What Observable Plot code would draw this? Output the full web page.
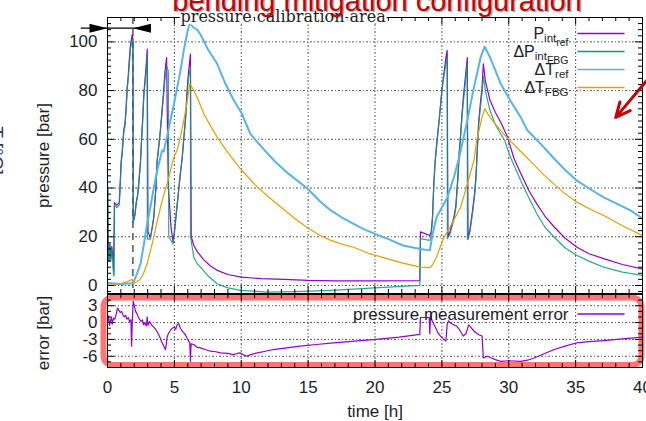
<!DOCTYPE html>
<html><head><meta charset="utf-8">
<script src="https://cdn.jsdelivr.net/npm/d3@7"></script>
<script src="https://cdn.jsdelivr.net/npm/@observablehq/plot@0.6"></script>
<style>
html,body{margin:0;padding:0;background:#fff;}
#wrap{position:relative;width:646px;height:421px;overflow:hidden;background:#fff;}
#wrap svg{position:absolute;left:0;top:0;}
</style></head><body><div id="wrap"></div>
<script>
// ---------------- data ----------------
const pIntRefT = [0,0.05,0.12,0.18,0.25,0.32,0.40,0.45,0.52,0.70,0.88,0.95,1.02,1.10,1.22,1.30,1.38,1.47,1.55,1.62,1.72,1.85,1.90,1.92,2.05,2.15,2.25,2.34,2.47,2.55,2.62,2.72,2.80,2.90,2.97,3.00,3.03,3.20,3.35,3.46,3.55,3.62,3.71,3.85,3.96,4.08,4.21,4.30,4.42,4.47,4.55,4.75,4.90,5.00,5.15,5.30,5.45,5.58,5.70,5.85,5.95,6.05,6.20,6.23,6.26,6.45,6.70,7.20,7.70,8.20,9.00,10.0,11.5,13.2,15.0,17.0,20.0,23.35,23.40,24.10,24.20,24.30,24.40,24.50,24.65,24.80,24.90,25.00,25.15,25.30,25.40,25.43,25.46,25.60,25.75,25.90,26.05,26.20,26.30,26.40,26.50,26.60,26.75,26.90,26.93,26.96,27.10,27.30,27.45,27.55,27.62,27.75,27.90,28.00,28.10,28.25,28.60,29.00,29.40,29.90,30.40,30.90,31.50,32.10,32.70,33.40,34.20,35.10,36.00,37.10,38.50,40.00];
const pIntRefV = [42,18,10,17,11,16,12,6,34,33,34,42,51,55,64,66,72,81,86,92,99,103,101,26,29,34,37,42,51,60,67,79,84,91,97,60,22,19.5,24,28,35,40,51,58,64,72,81,88,93.5,70,40,24,18,22,30,38,46,52,60,70,80,87,95,60,20,16.5,14,10.5,8,6.2,4.5,3.4,2.8,2.5,2.1,1.9,1.9,2.0,22,20.5,22,28,42,51,60,68,74,80,87,93.5,96.5,50,20,22,25,28,33,45,55,62,70,77,85,93.5,50,19,23,31,38,45,53,67,76,81,91,84,76,71,67,61,52,46,39,33.5,28.5,24,19.5,15.7,13,11,8.6,6.8];

const dPIntFbgT = [0,0.03,0.06,0.12,0.18,0.25,0.32,0.40,0.45,0.50,0.52,0.70,0.88,0.95,1.02,1.10,1.22,1.30,1.38,1.47,1.55,1.62,1.72,1.85,1.91,1.93,2.05,2.15,2.25,2.34,2.47,2.55,2.62,2.72,2.80,2.90,2.97,2.98,3.20,3.35,3.46,3.55,3.62,3.71,3.85,3.96,4.08,4.21,4.30,4.42,4.55,4.58,4.90,5.00,5.15,5.30,5.45,5.58,5.70,5.85,5.95,6.05,6.20,6.21,6.45,6.70,6.95,7.50,8.20,9.00,9.94,11.9,14.0,16.7,20.0,23.35,23.40,24.10,24.20,24.30,24.40,24.50,24.65,24.80,24.90,25.00,25.15,25.30,25.40,25.41,25.60,25.75,25.90,26.05,26.20,26.30,26.40,26.50,26.60,26.75,26.90,26.91,27.10,27.30,27.45,27.55,27.62,27.75,27.90,28.00,28.10,28.25,28.60,29.00,29.40,29.70,30.10,30.90,31.50,32.10,32.70,33.40,34.20,35.10,36.00,37.10,38.50,40.00];
const dPIntFbgV = [40,40,10,12,17,10,15,11,4,4,33,32,33,41,50,54,63,65,71,80,85,90,97,101,101,26,29,34,37,42,51,60,67,78,83,89,94,19,19,24,28,35,40,51,58,64,71,79,85,90,88,20,17,21,30,38,46,52,60,69,78,85,89.6,20,11.6,9,7.5,4,0.7,-1,-2,-2.7,-2.5,-2,-1,0,19.2,18.5,20,28,42,51,60,68,74,80,86,91,93.7,19.2,21,24,27,32,44,54,61,69,75,83,91,18.8,22,30,37,44,52,66,74,79,86,80,71.8,66,62.2,59.5,53,43,36,29.4,24,19.8,15.5,12.3,10,7.5,5.5,4.1];

const dTRefT = [0,0.5,1.0,1.5,1.9,2.2,2.47,2.72,2.96,3.2,3.46,3.71,4.08,4.2,4.45,4.7,4.95,5.2,5.45,5.7,5.9,6.08,6.2,6.4,6.7,6.95,7.5,8.2,8.8,9.44,10.0,10.7,11.5,12.5,13.5,14.9,15.9,16.7,17.5,18.4,19.2,20.0,21.0,22.1,23.4,24.1,24.3,24.6,25.0,25.4,25.9,26.3,26.9,27.4,27.9,28.2,28.6,29.4,30.1,30.9,31.4,32.4,33.4,34.2,35.1,36.1,37.1,38.1,39.1,40.0];
const dTRefV = [1.0,0.8,0.6,0.8,0.8,4.8,8.9,17,25.3,32,40,47,55.4,55,61,67.7,74,81,88,96.4,102,106.7,107.5,106,105,103,97,91,83,76,71,62,57,51,46,40,34.5,30.8,28,25.3,23,21.2,19,16.4,15,14.4,21,28,32,36,44.4,52.6,67.7,81.4,93.7,98,93.7,82.8,76,69,63.6,58,52,47.5,43,39.5,36.2,33.5,30.8,27.5];

const dTFbgT = [0,0.5,1.0,1.5,1.85,1.95,2.2,2.47,2.7,2.96,3.2,3.46,3.7,3.96,4.2,4.46,4.7,4.96,5.2,5.45,5.7,5.95,6.15,6.25,6.7,7.2,7.7,8.2,9.0,9.94,11.0,12.0,13.0,14.0,14.9,15.9,16.7,17.5,18.4,19.5,20.9,22.0,23.4,24.1,24.3,24.6,25.1,25.6,26.0,26.4,26.9,27.4,27.6,28.0,28.2,28.6,29.4,30.0,30.9,31.8,32.6,33.4,34.2,35.1,36.1,37.1,38.5,40.0];
const dTFbgV = [0,0.3,0.8,1.6,2.5,0.8,1.5,2.7,5,8.9,14,19.8,26,32,37,41.7,47,52.6,55.4,61,67.7,75,82.8,82,77.3,70.5,65.5,60.9,54.5,47.9,41.5,36.5,32,27.5,23.9,20.5,18.5,17,15.7,13.2,11,9.3,7.5,7.3,8.5,11.6,19.2,23.9,28,32,41.7,51.3,59.5,69,72.5,69,63.6,60,55,50,45.5,41.5,37.7,34.2,31.3,28.7,24.5,20.5];

const errT = [0.00,0.08,0.15,0.22,0.30,0.35,0.45,0.55,0.65,0.75,0.85,0.95,1.05,1.15,1.25,1.35,1.45,1.55,1.65,1.75,1.80,1.85,1.92,2.00,2.10,2.20,2.30,2.40,2.50,2.60,2.70,2.80,2.90,2.97,3.03,3.15,3.30,3.46,3.60,3.70,3.84,3.95,4.05,4.15,4.25,4.33,4.40,4.45,4.55,4.70,4.85,5.00,5.10,5.20,5.33,5.45,5.58,5.70,5.83,5.95,6.08,6.15,6.20,6.25,6.45,6.70,6.95,7.30,7.70,8.10,8.45,9.00,9.44,9.70,9.94,10.2,10.4,10.7,11.2,11.8,12.4,13.4,14.4,15.6,16.9,18.5,20.1,21.8,23.35,23.40,24.05,24.10,24.15,24.25,24.40,24.55,24.70,24.90,25.10,25.30,25.40,25.50,25.60,25.75,25.90,26.10,26.30,26.45,26.60,26.80,26.90,27.00,27.15,27.40,27.60,27.80,28.00,28.10,28.40,28.70,29.00,29.40,30.0,30.9,31.4,31.9,32.6,33.4,34.2,35.1,36.0,37.1,38.5,40.0];
const errV = [0.0,1.2,-0.5,0.3,1.0,-0.3,0.8,0.6,1.5,2.6,2.2,1.8,2.0,1.4,1.0,1.3,0.6,0.9,0.2,0.5,-4.2,0.0,3.8,3.0,2.0,1.6,1.0,0.6,0.2,0.5,-0.4,0.0,-0.6,1.0,-0.5,0.2,-0.4,-0.8,-1.2,-1.6,-2.2,-2.8,-3.4,-3.9,-4.4,-4.8,-3.8,-2.6,-2.0,-1.4,-1.0,-0.8,-1.2,-0.4,-0.2,-1.0,-1.5,-1.8,-2.2,-2.8,-3.3,-3.6,-6.9,-3.8,-3.9,-4.4,-4.5,-4.8,-5.1,-5.2,-5.4,-5.5,-5.7,-5.5,-5.4,-5.8,-6.0,-5.7,-5.4,-5.1,-4.8,-4.5,-4.2,-3.9,-3.6,-3.3,-3.0,-2.6,-2.1,0.9,0.9,-2.0,1.5,0.4,-0.3,-1.0,-1.8,-2.4,-2.9,-3.3,-0.3,0.3,0.0,-0.2,-0.4,-0.6,-1.2,-1.8,-2.4,-2.0,-1.2,-0.4,-0.8,-1.5,-1.9,-2.2,-2.4,-6.3,-6.0,-6.3,-6.6,-6.9,-6.8,-6.9,-6.7,-6.3,-5.6,-4.8,-4.2,-3.6,-3.4,-3.2,-2.9,-2.6];

// tick labels
const timeTicks = [0,5,10,15,20,25,30,35,40];
const pressureTicks = [0,20,40,60,80,100];
const errorTicks = [3,0,-3,-6];

// text
const titleText = "bending mitigation configuration";
const calibText = "pressure calibration area";
const legendLabels = ["P_int_ref","ΔP_int_FBG","ΔT_ref","ΔT_FBG"];
const errLegend = "pressure measurement error";

// annotations (data coordinates)
const calibT = 1.9;            // end of calibration area [h]
const calibArrow = {t1: -2.0, t2: 3.2, v: 105.6};
const redArrow = {x1: 40.3, y1: 84, x2: 38.0, y2: 69};

// ---------------- styling/layout ----------------
const W = 646, H = 421, ML = 107, MR = 4;
const T1 = 17, B1 = 128, T2 = 294, B2 = 54;
const PW = W - ML - MR, PH1 = H - T1 - B1, PH2 = H - T2 - B2;
const SANS = "'Liberation Sans', Arial, sans-serif";
const INK = "#1d1d2b";
const COL = ["#9400d3", "#009e73", "#56b4e9", "#e69f00"];
const gridStyle = {stroke: "#000", strokeOpacity: 0.75, strokeWidth: 0.9, strokeDasharray: "2,2,1,2"};

const zip = (T, V) => T.map((t, i) => ({t, v: V[i]}));
const pIntRef = zip(pIntRefT, pIntRefV);
const dPIntFbg = zip(dPIntFbgT, dPIntFbgV);
const dTRef = zip(dTRefT, dTRefV);
const dTFbg = zip(dTFbgT, dTFbgV);
const err = zip(errT, errV);

const minorOf = (lo, hi, step, majors) => d3.range(lo, hi + 1e-9, step).filter(v => !majors.some(m => Math.abs(m - v) < 1e-6));

function frameTicks(ph, xMaj, xMin, yMaj, yMin) {
  const st = {stroke: "#000", strokeWidth: 1};
  return [
    Plot.tickX(xMaj, {...st, insetTop: ph - 7}),
    Plot.tickX(xMaj, {...st, insetBottom: ph - 7}),
    Plot.tickX(xMin, {...st, insetTop: ph - 4}),
    Plot.tickX(xMin, {...st, insetBottom: ph - 4}),
    Plot.tickY(yMaj, {...st, insetRight: PW - 7}),
    Plot.tickY(yMaj, {...st, insetLeft: PW - 7}),
    Plot.tickY(yMin, {...st, insetRight: PW - 4}),
    Plot.tickY(yMin, {...st, insetLeft: PW - 4})
  ];
}

const lineSymbol = {draw(ctx) { ctx.moveTo(-23.5, 0); ctx.lineTo(23.5, 0); }};
const headSymbol = {draw(ctx) { ctx.moveTo(0, 0); ctx.lineTo(-18, -4.5); ctx.lineTo(-18, 4.5); ctx.closePath(); }};

const xMinor = minorOf(0, 40, 1, timeTicks);
const pMinor = minorOf(-2.5, 110, 2.5, pressureTicks);
const eMinor = minorOf(-8, 5, 1, errorTicks);

const legendDy = [16, 34, 52, 70];
const legendMarks = legendLabels.flatMap((lab, i) => [
  Plot.text([lab], {text: d => d, frameAnchor: "top-right", dx: -74, dy: legendDy[i], textAnchor: "end", lineAnchor: "middle", fontSize: 16, fill: INK}),
  Plot.dot([0], {frameAnchor: "top-right", dx: -41.5, dy: legendDy[i], symbol: lineSymbol, fill: "none", stroke: COL[i], strokeWidth: 1.3})
]);

const topPlot = Plot.plot({
  width: W, height: H, marginLeft: ML, marginRight: MR, marginTop: T1, marginBottom: B1,
  x: {domain: [0, 40], axis: null, label: null},
  y: {domain: [-3.3, 110], label: null},
  style: {fontFamily: SANS, fontSize: "17px", background: "transparent", color: INK},
  marks: [
    Plot.ruleX(timeTicks.slice(1, -1), gridStyle),
    Plot.ruleY(pressureTicks, gridStyle),
    Plot.ruleX([calibT], {stroke: "#4a4a4a", strokeWidth: 1.4, strokeDasharray: "7,5"}),
    Plot.line(pIntRef, {x: "t", y: "v", stroke: COL[0], strokeWidth: 1.2, clip: true}),
    Plot.line(dPIntFbg, {x: "t", y: "v", stroke: COL[1], strokeWidth: 1.2, strokeOpacity: 0.85, clip: true}),
    Plot.line(dTRef, {x: "t", y: "v", stroke: COL[2], strokeWidth: 2, clip: true}),
    Plot.line(dTFbg, {x: "t", y: "v", stroke: COL[3], strokeWidth: 1.2, clip: true}),
    ...frameTicks(PH1, timeTicks, xMinor, pressureTicks, pMinor),
    Plot.frame({stroke: "#000", strokeWidth: 1}),
    Plot.axisY(pressureTicks, {anchor: "left", tickSize: 0, tickPadding: 10, fontSize: 17, label: null, tickFormat: d => String(d), color: INK}),
    Plot.text(["pressure [bar]"], {text: d => d, frameAnchor: "left", rotate: -90, dx: -64, textAnchor: "middle", lineAnchor: "middle", fontSize: 17, fill: INK}),
    Plot.text(["T [°C]"], {text: d => d, frameAnchor: "left", rotate: 90, dx: -104, dy: -5, textAnchor: "middle", lineAnchor: "top", fontSize: 19, fill: "#2b3570"}),
    ...legendMarks,
    // calibration-area annotation
    Plot.link([calibArrow], {x1: "t1", x2: "t2", y1: "v", y2: "v", stroke: "#000", strokeWidth: 1.2, clip: false}),
    Plot.dot([{t: 0, v: calibArrow.v, r: 0}, {t: calibT, v: calibArrow.v, r: 180}], {x: "t", y: "v", rotate: "r", symbol: headSymbol, fill: "#000", stroke: "none", clip: false}),
    Plot.text([calibText], {text: d => d, frameAnchor: "top-left", dx: 73, dy: 4.5, textAnchor: "start", lineAnchor: "bottom", fontFamily: "'DejaVu Serif', serif", fontSize: 16, fill: "#222", stroke: "#fff", strokeWidth: 5, paintOrder: "stroke", strokeLinejoin: "round"}),
    // title (cut off at the top, as in the reference)
    Plot.text([titleText], {text: d => d, frameAnchor: "top", dx: 3.5, dy: -5.5, lineAnchor: "bottom", fontSize: 29, fill: "#000", fillOpacity: 0.35}),
    Plot.text([titleText], {text: d => d, frameAnchor: "top", dx: 2, dy: -7, lineAnchor: "bottom", fontSize: 29, fill: "#cc0000"}),
    // red pointer arrow
    Plot.arrow([redArrow], {x1: "x1", y1: "y1", x2: "x2", y2: "y2", stroke: "#cc0000", strokeWidth: 3, headLength: 12, headAngle: 50, clip: false})
  ]
});

const botPlot = Plot.plot({
  width: W, height: H, marginLeft: ML, marginRight: MR, marginTop: T2, marginBottom: B2,
  x: {domain: [0, 40], label: null},
  y: {domain: [-8, 5], label: null},
  style: {fontFamily: SANS, fontSize: "17px", background: "transparent", color: INK},
  marks: [
    Plot.ruleX(timeTicks.slice(1, -1), gridStyle),
    Plot.ruleY(errorTicks, gridStyle),
    Plot.frame({stroke: "#ff0000", strokeOpacity: 0.55, strokeWidth: 6, rx: 9, insetLeft: -4, insetTop: 3, insetBottom: 2.5, insetRight: 1}),
    Plot.line(err, {x: "t", y: "v", stroke: COL[0], strokeWidth: 1.2, clip: true}),
    ...frameTicks(PH2, timeTicks, xMinor, errorTicks, eMinor),
    Plot.frame({stroke: "#000", strokeWidth: 1}),
    Plot.axisX(timeTicks, {anchor: "bottom", tickSize: 0, tickPadding: 13, fontSize: 17, label: null, tickFormat: d => String(d), color: INK}),
    Plot.axisY(errorTicks, {anchor: "left", tickSize: 0, tickPadding: 10, fontSize: 17, label: null, tickFormat: d => String(d), color: INK}),
    Plot.text(["error [bar]"], {text: d => d, frameAnchor: "left", rotate: -90, dx: -64, dy: 2, textAnchor: "middle", lineAnchor: "middle", fontSize: 17, fill: INK}),
    Plot.text(["time [h]"], {text: d => d, frameAnchor: "bottom", dy: 44, textAnchor: "middle", lineAnchor: "middle", fontSize: 17, fill: INK}),
    Plot.text([errLegend], {text: d => d, frameAnchor: "top-right", dx: -74, dy: 20, textAnchor: "end", lineAnchor: "middle", fontSize: 17, fill: INK}),
    Plot.dot([0], {frameAnchor: "top-right", dx: -41.5, dy: 19.5, symbol: lineSymbol, fill: "none", stroke: COL[0], strokeWidth: 1.3})
  ]
});

// legend labels with subscripts: "P_int_ref" -> P, sub "int", sub-sub "ref"
const NS = "http://www.w3.org/2000/svg";
topPlot.querySelectorAll("text").forEach(el => {
  const s = el.textContent;
  if (!legendLabels.includes(s)) return;
  const parts = s.split("_");
  el.textContent = parts[0];
  const sizes = [11.5, 10.5];
  parts.slice(1).forEach((p, k) => {
    const ts = document.createElementNS(NS, "tspan");
    ts.setAttribute("dy", "3.5");
    ts.setAttribute("font-size", sizes[k]);
    ts.textContent = p;
    el.appendChild(ts);
  });
});

const wrap = document.getElementById("wrap");
wrap.appendChild(topPlot);
wrap.appendChild(botPlot);
</script>
</body></html>
